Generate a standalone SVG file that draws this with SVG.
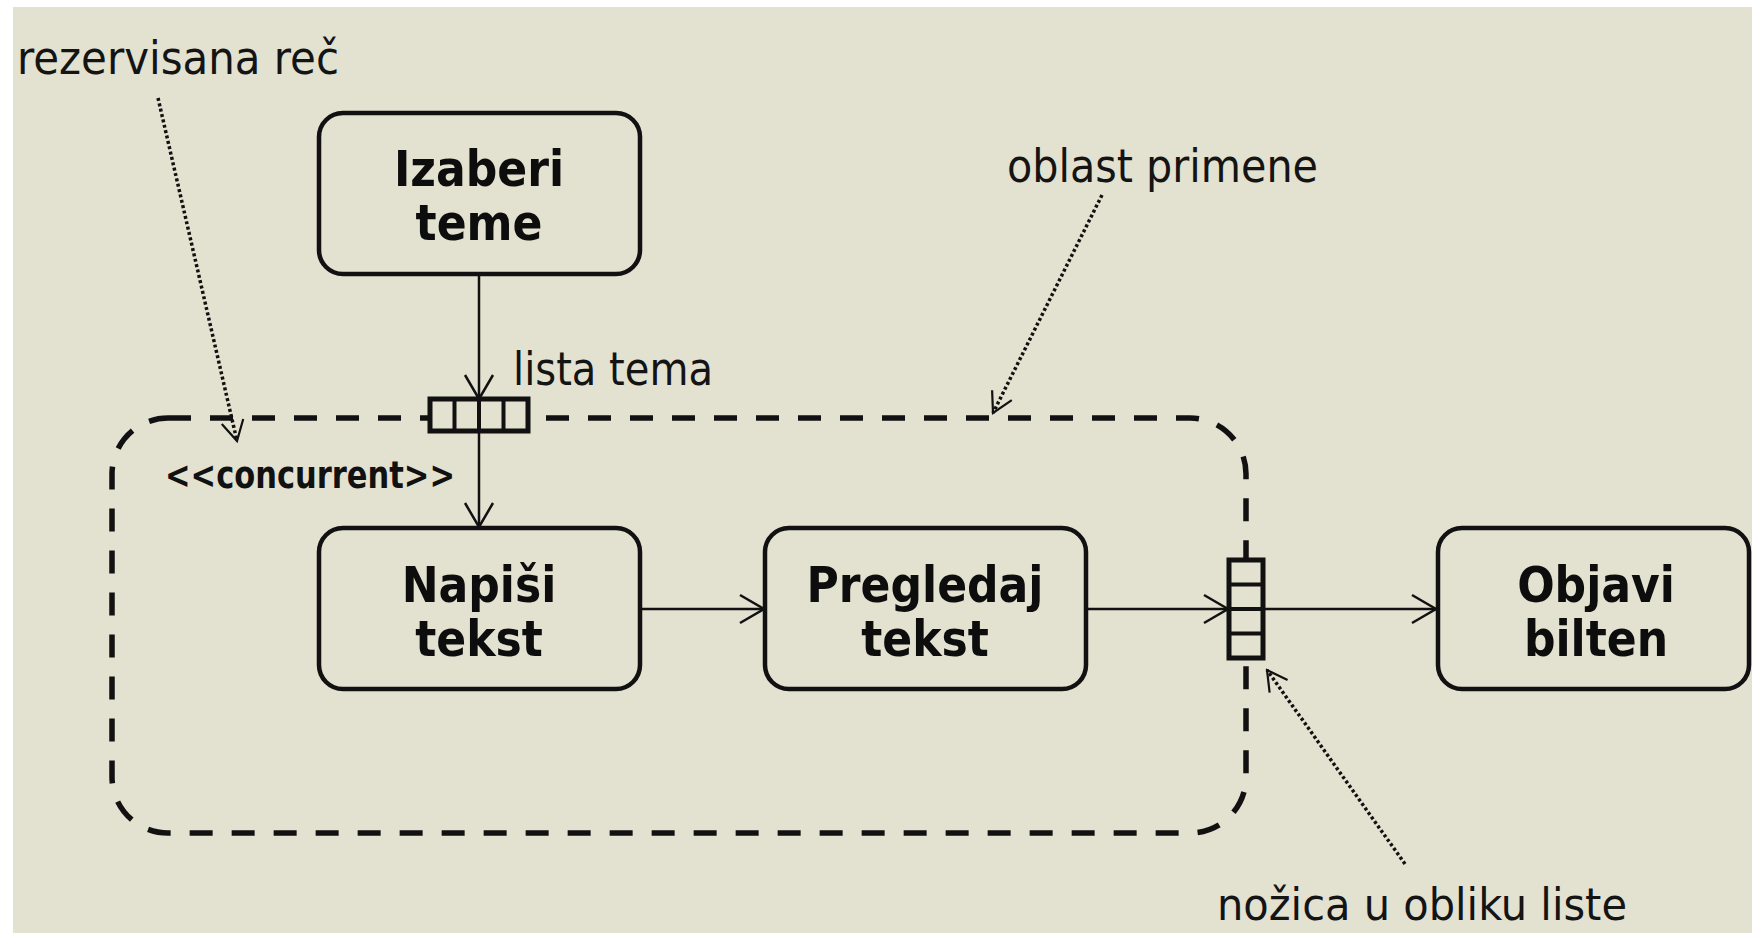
<svg xmlns="http://www.w3.org/2000/svg" width="1752" height="933" viewBox="0 0 1752 933">
<defs>
<style>
.bg{fill:#e3e1d0}
.box{fill:none;stroke:#111;stroke-width:4.5}
.region{fill:none;stroke:#111;stroke-width:5.5;stroke-dasharray:23 19}
.pin{fill:#e3e1d0;stroke:#111;stroke-width:5}
.cell{stroke:#111;stroke-width:4}
.flow{fill:none;stroke:#111;stroke-width:2.5}
.dot{fill:none;stroke:#111;stroke-width:3.5;stroke-dasharray:3 2.5}
.bold{font-family:"DejaVu Sans Condensed","DejaVu Sans",sans-serif;font-weight:bold;font-size:49px;fill:#0d0d0d;text-anchor:middle}
.lbl{font-family:"DejaVu Sans Condensed","DejaVu Sans",sans-serif;font-size:47px;fill:#141414}
.stereo{font-family:"DejaVu Sans Condensed","DejaVu Sans",sans-serif;font-weight:bold;font-size:38px;fill:#111}
</style>
<marker id="open" viewBox="-27 -17 30 34" refX="0" refY="0" markerWidth="30" markerHeight="34" markerUnits="userSpaceOnUse" orient="auto">
<path d="M-24,-14 L0,0 L-24,14" fill="none" stroke="#111" stroke-width="2.5"/>
</marker>
<marker id="thin" viewBox="-24 -14 26 28" refX="0" refY="0" markerWidth="26" markerHeight="28" markerUnits="userSpaceOnUse" orient="auto">
<path d="M-20,-11 L0,0 L-20,11" fill="none" stroke="#111" stroke-width="2.2"/>
</marker>
</defs>
<rect x="0" y="0" width="1752" height="933" fill="#ffffff"/>
<rect class="bg" x="13" y="7" width="1739" height="926"/>

<g id="region">
<rect class="region" x="112" y="418" width="1134" height="415" rx="56" ry="56"/>
<text class="stereo" x="165" y="488" textLength="290" lengthAdjust="spacingAndGlyphs">&lt;&lt;concurrent&gt;&gt;</text>
</g>

<g id="connectors">
<line class="flow" x1="479" y1="275" x2="479" y2="399" marker-end="url(#open)"/>
<line class="flow" x1="479" y1="431" x2="479" y2="527" marker-end="url(#open)"/>
<line class="flow" x1="641" y1="609" x2="764" y2="609" marker-end="url(#open)"/>
<line class="flow" x1="1087" y1="609" x2="1228" y2="609" marker-end="url(#open)"/>
<line class="flow" x1="1263" y1="609" x2="1436" y2="609" marker-end="url(#open)"/>
<line class="dot" x1="158" y1="98" x2="237" y2="441" marker-end="url(#thin)"/>
<line class="dot" x1="1102" y1="195" x2="993" y2="413" marker-end="url(#thin)"/>
<line class="dot" x1="1405" y1="864" x2="1267" y2="670" marker-end="url(#thin)"/>
</g>

<g id="pin-lista-tema">
<rect class="pin" x="430" y="399" width="98" height="32"/>
<line class="cell" x1="454.5" y1="399" x2="454.5" y2="431"/>
<line class="cell" x1="479" y1="399" x2="479" y2="431"/>
<line class="cell" x1="503.5" y1="399" x2="503.5" y2="431"/>
<text class="lbl" x="513" y="385" textLength="200" lengthAdjust="spacingAndGlyphs">lista tema</text>
</g>

<g id="pin-izlaz">
<rect class="pin" x="1229" y="560" width="34" height="98"/>
<line class="cell" x1="1229" y1="584.5" x2="1263" y2="584.5"/>
<line class="cell" x1="1229" y1="609" x2="1263" y2="609"/>
<line class="cell" x1="1229" y1="633.5" x2="1263" y2="633.5"/>
</g>

<g id="izaberi-teme">
<rect class="box" x="319" y="113" width="321" height="161" rx="24" ry="24"/>
<text class="bold" x="479" y="186">Izaberi</text>
<text class="bold" x="479" y="240">teme</text>
</g>

<g id="napisi-tekst">
<rect class="box" x="319" y="528" width="321" height="161" rx="24" ry="24"/>
<text class="bold" x="479" y="602">Napiši</text>
<text class="bold" x="479" y="656">tekst</text>
</g>

<g id="pregledaj-tekst">
<rect class="box" x="765" y="528" width="321" height="161" rx="24" ry="24"/>
<text class="bold" x="925" y="602">Pregledaj</text>
<text class="bold" x="925" y="656">tekst</text>
</g>

<g id="objavi-bilten">
<rect class="box" x="1438" y="528" width="311" height="161" rx="24" ry="24"/>
<text class="bold" x="1596" y="602">Objavi</text>
<text class="bold" x="1596" y="656">bilten</text>
</g>

<g id="labels">
<text class="lbl" x="17" y="74" textLength="322" lengthAdjust="spacingAndGlyphs">rezervisana reč</text>
<text class="lbl" x="1007" y="182" textLength="311" lengthAdjust="spacingAndGlyphs">oblast primene</text>
<text class="lbl" x="1217" y="920" style="font-size:45px" textLength="410" lengthAdjust="spacingAndGlyphs">nožica u obliku liste</text>
</g>
</svg>
